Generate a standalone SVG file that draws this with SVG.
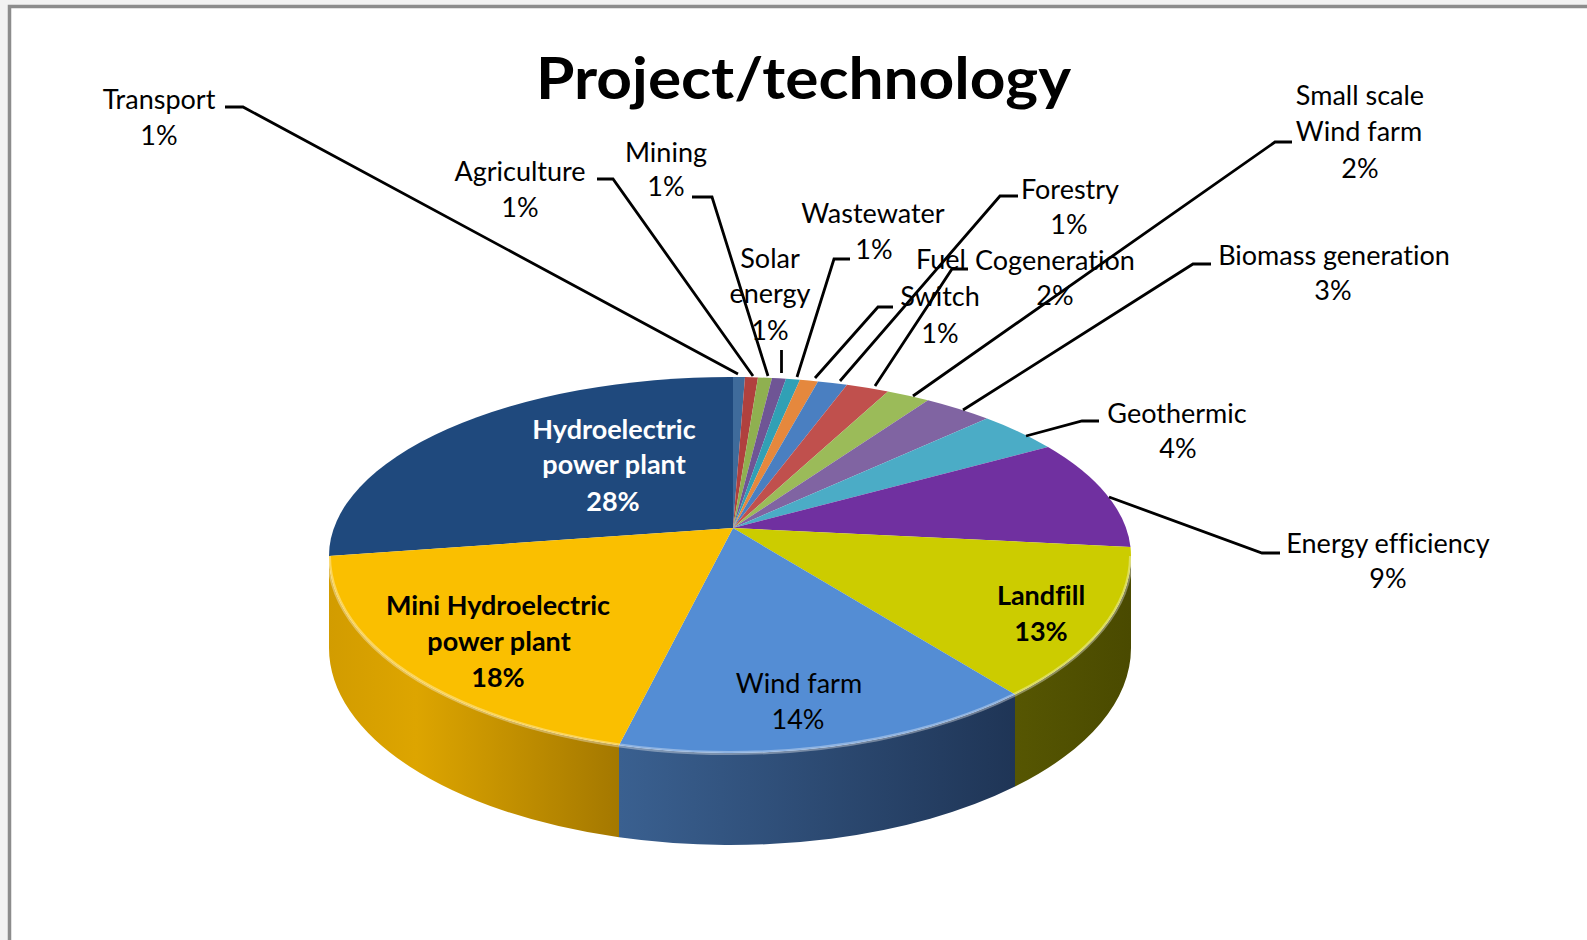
<svg xmlns="http://www.w3.org/2000/svg" width="1587" height="940" viewBox="0 0 1587 940">
<defs>
<style>
.lbl{font-family:Lato,"Liberation Sans",sans-serif;font-size:27px;fill:#000;text-anchor:middle;font-variant-ligatures:none}
.in{font-weight:bold}
.w{fill:#fff}
.ld{fill:none;stroke:#000;stroke-width:2.8;stroke-linejoin:miter}
.sl{stroke:none}
</style>
<linearGradient id="gMini" gradientUnits="userSpaceOnUse" x1="329" y1="0" x2="619" y2="0">
<stop offset="0" stop-color="#D29C00"/><stop offset="0.3" stop-color="#DDA500"/><stop offset="1" stop-color="#A47800"/>
</linearGradient>
<linearGradient id="gWind" gradientUnits="userSpaceOnUse" x1="619" y1="0" x2="1015" y2="0">
<stop offset="0" stop-color="#3A6090"/><stop offset="1" stop-color="#1F3556"/>
</linearGradient>
<linearGradient id="gLand" gradientUnits="userSpaceOnUse" x1="1015" y1="0" x2="1131" y2="0">
<stop offset="0" stop-color="#565602"/><stop offset="1" stop-color="#4A4A00"/>
</linearGradient>
</defs>
<rect x="0" y="0" width="1587" height="940" fill="#f2f2f2"/>
<rect x="9.5" y="6.5" width="1620" height="960" fill="#ffffff" stroke="#8c8c8c" stroke-width="3.5"/>
<text x="536" y="99" font-family="Lato,'Liberation Sans',sans-serif" font-size="57" font-weight="bold" textLength="535" lengthAdjust="spacingAndGlyphs">Project/technology</text>

<g id="hydro">
<path class="sl" fill="#1F497D" d="M733 528 L329 556 A401 179 0 0 1 733 377 Z"/>
<text class="lbl in w" x="614" y="439">Hydroelectric</text>
<text class="lbl in w" x="614" y="474">power plant</text>
<text class="lbl in w" x="613" y="511">28%</text>
</g>
<g id="transport">
<path class="sl" fill="#3F6B9B" d="M733 528 L733 377 A401 179 0 0 1 745 377.1 Z"/>
<text class="lbl" x="159" y="109">Transport</text>
<text class="lbl" x="159" y="145">1%</text>
</g>
<g id="agriculture">
<path class="sl" fill="#B0413E" d="M733 528 L745 377.1 A401 179 0 0 1 758 377.4 Z"/>
<text class="lbl" x="520" y="181">Agriculture</text>
<text class="lbl" x="520" y="217">1%</text>
</g>
<g id="mining">
<path class="sl" fill="#8FB050" d="M733 528 L758 377.4 A401 179 0 0 1 772 378 Z"/>
<text class="lbl" x="666" y="162">Mining</text>
<text class="lbl" x="666" y="196">1%</text>
</g>
<g id="solar">
<path class="sl" fill="#6F5595" d="M733 528 L772 378 A401 179 0 0 1 786 378.8 Z"/>
<text class="lbl" x="770" y="268">Solar</text>
<text class="lbl" x="770" y="303">energy</text>
<text class="lbl" x="770" y="340">1%</text>
</g>
<g id="wastewater">
<path class="sl" fill="#31A0B5" d="M733 528 L786 378.8 A401 179 0 0 1 800 379.75 Z"/>
<text class="lbl" x="873" y="223">Wastewater</text>
<text class="lbl" x="874" y="259">1%</text>
</g>
<g id="fuel-switch">
<path class="sl" fill="#E5883D" d="M733 528 L800 379.75 A401 179 0 0 1 818 381.4 Z"/>
<text class="lbl" x="941" y="269">Fuel</text>
<text class="lbl" x="940" y="306">Switch</text>
<text class="lbl" x="940" y="343">1%</text>
</g>
<g id="forestry">
<path class="sl" fill="#4A7FC1" d="M733 528 L818 381.4 A401 179 0 0 1 847 384.8 Z"/>
<text class="lbl" x="1070" y="199">Forestry</text>
<text class="lbl" x="1069" y="234">1%</text>
</g>
<g id="cogeneration">
<path class="sl" fill="#C0504D" d="M733 528 L847 384.8 A401 179 0 0 1 888 391.5 Z"/>
<text class="lbl" x="1055" y="270">Cogeneration</text>
<text class="lbl" x="1055" y="305">2%</text>
</g>
<g id="small-wind">
<path class="sl" fill="#9BBB59" d="M733 528 L888 391.5 A401 179 0 0 1 928 400.3 Z"/>
<text class="lbl" x="1360" y="105">Small scale</text>
<text class="lbl" x="1359" y="141">Wind farm</text>
<text class="lbl" x="1360" y="178">2%</text>
</g>
<g id="biomass">
<path class="sl" fill="#8064A2" d="M733 528 L928 400.3 A401 179 0 0 1 987 418.6 Z"/>
<text class="lbl" x="1334" y="265">Biomass generation</text>
<text class="lbl" x="1333" y="300">3%</text>
</g>
<g id="geothermic">
<path class="sl" fill="#4BACC6" d="M733 528 L987 418.6 A401 179 0 0 1 1048 447 Z"/>
<text class="lbl" x="1177" y="423">Geothermic</text>
<text class="lbl" x="1178" y="458">4%</text>
</g>
<g id="energy-efficiency">
<path class="sl" fill="#7030A0" d="M733 528 L1048 447 A401 179 0 0 1 1130.5 547 Z"/>
<text class="lbl" x="1388" y="553">Energy efficiency</text>
<text class="lbl" x="1388" y="588">9%</text>
</g>
<g id="landfill">
<path class="sl" fill="url(#gLand)" d="M1131 556 A401 197 0 0 1 1015 694.6 L1015 786.6 A401 197 0 0 0 1131 648 Z"/>
<path class="sl" fill="#CCCC00" d="M733 528 L1130.5 547 A401 179 0 0 1 1131 556 A401 197 0 0 1 1015 694.6 Z"/>
<text class="lbl in" x="1041" y="605">Landfill</text>
<text class="lbl in" x="1041" y="641">13%</text>
</g>
<g id="wind-farm">
<path class="sl" fill="url(#gWind)" d="M1015 694.6 A401 197 0 0 1 619 745.3 L619 837.3 A401 197 0 0 0 1015 786.6 Z"/>
<path class="sl" fill="#548DD4" d="M733 528 L1015 694.6 A401 197 0 0 1 619 745.3 Z"/>
<text class="lbl" x="799" y="693">Wind farm</text>
<text class="lbl" x="798" y="729">14%</text>
</g>
<g id="mini-hydro">
<path class="sl" fill="url(#gMini)" d="M619 745.3 A401 197 0 0 1 329 556 L329 648 A401 197 0 0 0 619 837.3 Z"/>
<path class="sl" fill="#FABF00" d="M733 528 L619 745.3 A401 197 0 0 1 329 556 Z"/>
<text class="lbl in" x="498" y="615">Mini Hydroelectric</text>
<text class="lbl in" x="499" y="651">power plant</text>
<text class="lbl in" x="498" y="687">18%</text>
</g>
<path d="M329 556 A401 197 0 0 0 1131 556" fill="none" stroke="#ffffff" stroke-opacity="0.35" stroke-width="4"/>

<g id="connectors">
<path class="ld" d="M225 107 L243 107 L738 374"/>
<path class="ld" d="M597 179 L613 179 L753 376"/>
<path class="ld" d="M692 197 L712 197 L768 376"/>
<path class="ld" d="M781.5 350 L781.5 373"/>
<path class="ld" d="M850 259 L834 259 L797 377"/>
<path class="ld" d="M893 307 L878 307 L815 378"/>
<path class="ld" d="M1018 196 L1000 196 L840 381"/>
<path class="ld" d="M968 269 L952 269 L875 386"/>
<path class="ld" d="M1292 142 L1275 142 L913 396"/>
<path class="ld" d="M1211 264 L1193 264 L963 410"/>
<path class="ld" d="M1099 421 L1082 421 L1026 436"/>
<path class="ld" d="M1280 553 L1262 553 L1109 497"/>
</g>
</svg>
